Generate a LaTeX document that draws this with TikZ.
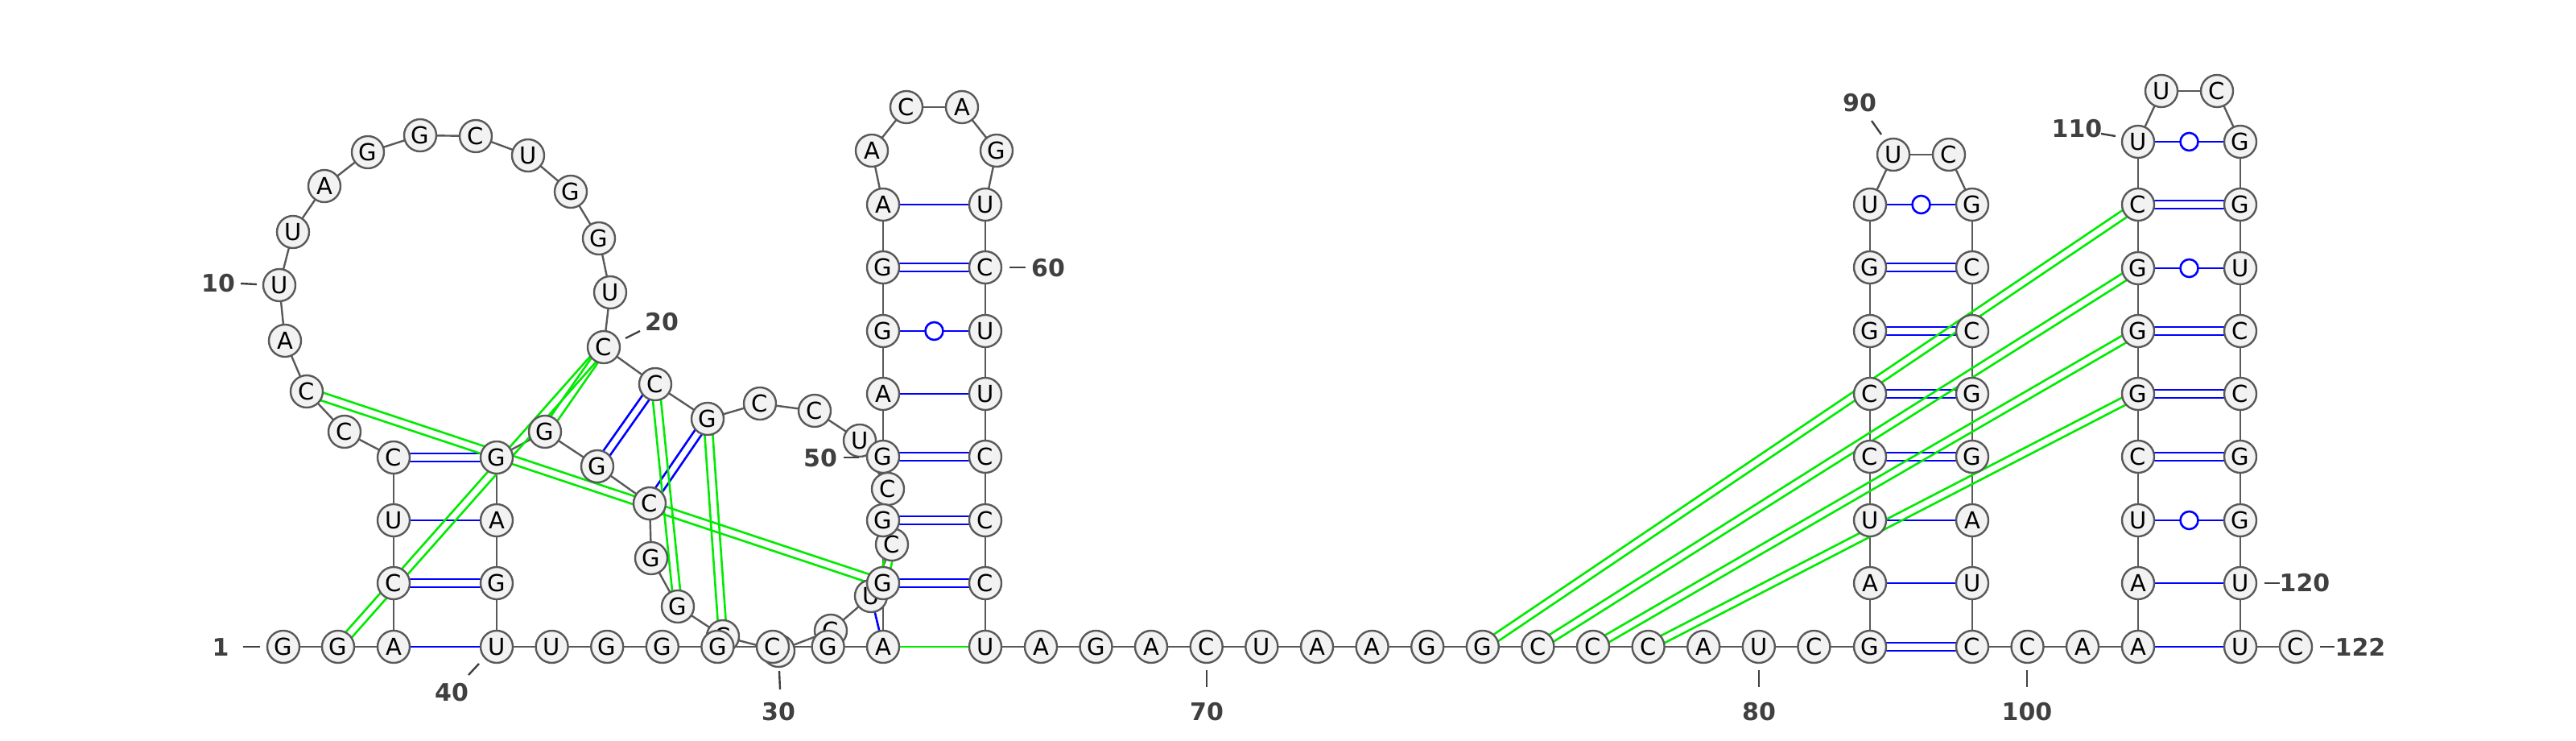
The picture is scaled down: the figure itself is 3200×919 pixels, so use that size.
\documentclass[tikz,border=0pt]{standalone}
\usepackage{fontspec}
\setmainfont{DejaVu Sans}
\usetikzlibrary{calc,backgrounds}
\definecolor{ntfill}{HTML}{F2F2F2}
\definecolor{ntdraw}{HTML}{595959}
\definecolor{labc}{HTML}{404040}
\definecolor{pkgreen}{RGB}{0,235,0}
\definecolor{bpblue}{RGB}{0,0,255}
\newcommand\dpair[3]{%
  \draw[#1] ($(#2.center)!5pt!90:(#3.center)$) -- ($(#3.center)!5pt!-90:(#2.center)$);
  \draw[#1] ($(#2.center)!5pt!-90:(#3.center)$) -- ($(#3.center)!5pt!90:(#2.center)$);}
\newcommand\spair[3]{\draw[#1] (#2.center) -- (#3.center);}
\newcommand\wpair[2]{\draw[bp] (#1.center) -- (#2.center);
  \node[wob] at ($(#1.center)!0.5!(#2.center)$) {};}
\begin{document}
\begin{tikzpicture}[x=1pt,y=-1pt,
 nt/.style={circle,draw=ntdraw,fill=ntfill,line width=2.4pt,minimum size=40pt,inner sep=0pt,font=\fontsize{29}{30}\selectfont},
 bb/.style={draw=ntdraw,line width=2.4pt},
 bp/.style={draw=bpblue,line width=2.6pt},
 pk/.style={draw=pkgreen,line width=2.6pt},
 wob/.style={circle,draw=bpblue,fill=white,line width=2.6pt,minimum size=22pt,inner sep=0pt},
 lab/.style={text=labc,font=\bfseries\fontsize{30}{30}\selectfont,inner sep=0pt},
 tick/.style={draw=labc,line width=2.4pt}]
\useasboundingbox (0,0) rectangle (3200,919);
\foreach \i/\b/\x/\y in {
1/G/352/803, 2/G/420/803, 3/A/489/803, 4/C/489/724, 5/U/489/646, 6/C/489/568,
7/C/428/536, 8/C/381/486, 9/A/354/423, 10/U/347/354, 11/U/364/288, 12/A/403/231,
13/G/457/189, 14/G/522/168, 15/C/591/169, 16/U/656/193, 17/G/709/238, 18/G/744/296,
19/U/758/363, 20/C/750/431, 21/C/814/477, 22/G/879/520, 23/C/944/501, 24/C/1012/510,
25/U/1068/547, 26/C/1103/607, 27/C/1108/676, 28/U/1082/740, 29/C/1032/783, 30/C/967/808,
31/C/898/790, 32/G/842/753, 33/G/809/693, 34/C/807/625, 35/G/742/579, 36/G/677/536,
37/G/617/568, 38/A/617/646, 39/G/617/724, 40/U/617/803, 41/U/685.6/803, 42/G/754.2/803,
43/G/822.8/803, 44/G/891.4/803, 45/C/960/803, 46/G/1028.6/803, 47/A/1097/803, 48/G/1097/724,
49/G/1097/646, 50/G/1097/567, 51/A/1097/489, 52/G/1097/411, 53/G/1097/332, 54/A/1097/254,
55/A/1083/187, 56/C/1126/133, 57/A/1195/133, 58/G/1238/187, 59/U/1224/254, 60/C/1224/332,
61/U/1224/411, 62/U/1224/489, 63/C/1224/567, 64/C/1224/646, 65/C/1224/724, 66/U/1224/803,
67/A/1293/803, 68/G/1361.5/803, 69/A/1430/803, 70/C/1498.7/803, 71/U/1567.3/803, 72/A/1636/803,
73/A/1704.6/803, 74/G/1773.2/803, 75/G/1841.8/803, 76/C/1910.4/803, 77/C/1979/803, 78/C/2047.6/803,
79/A/2116.2/803, 80/U/2184.8/803, 81/C/2253.4/803, 82/G/2323/803, 83/A/2323/724, 84/U/2323/646,
85/C/2323/567, 86/C/2323/489, 87/G/2323/411, 88/G/2323/332, 89/U/2323/254, 90/U/2352/192,
91/C/2421/192, 92/G/2450/254, 93/C/2450/332, 94/C/2450/411, 95/G/2450/489, 96/G/2450/567,
97/A/2450/646, 98/U/2450/724, 99/C/2450/803, 100/C/2518.5/803, 101/A/2587/803, 102/A/2656/803,
103/A/2656/724, 104/U/2656/646, 105/C/2656/567, 106/G/2656/489, 107/G/2656/411, 108/G/2656/333,
109/C/2656/254, 110/U/2656/176, 111/U/2685/113, 112/C/2754/113, 113/G/2783/176, 114/G/2783/254,
115/U/2783/333, 116/C/2783/411, 117/C/2783/489, 118/G/2783/567, 119/G/2783/646, 120/U/2783/724,
121/U/2783/803, 122/C/2852/803}
  {\node[nt] (n\i) at (\x,\y) {\b};}
\begin{scope}[on background layer]
\foreach \i [evaluate=\i as \j using int(\i+1)] in {1,...,121}
  {\draw[bb] (n\i.center) -- (n\j.center);}
% canonical pairs
\spair{bp}{n3}{n40}
\dpair{bp}{n4}{n39}
\spair{bp}{n5}{n38}
\dpair{bp}{n6}{n37}
\dpair{bp}{n21}{n35}
\dpair{bp}{n22}{n34}
\spair{bp}{n28}{n47}
\dpair{bp}{n48}{n65}
\dpair{bp}{n49}{n64}
\dpair{bp}{n50}{n63}
\spair{bp}{n51}{n62}
\wpair{n52}{n61}
\dpair{bp}{n53}{n60}
\spair{bp}{n54}{n59}
\dpair{bp}{n82}{n99}
\spair{bp}{n83}{n98}
\spair{bp}{n84}{n97}
\dpair{bp}{n85}{n96}
\dpair{bp}{n86}{n95}
\dpair{bp}{n87}{n94}
\dpair{bp}{n88}{n93}
\wpair{n89}{n92}
\spair{bp}{n102}{n121}
\spair{bp}{n103}{n120}
\wpair{n104}{n119}
\dpair{bp}{n105}{n118}
\dpair{bp}{n106}{n117}
\dpair{bp}{n107}{n116}
\wpair{n108}{n115}
\dpair{bp}{n109}{n114}
\wpair{n110}{n113}
% pseudoknot pairs
\dpair{pk}{n2}{n20}
\dpair{pk}{n36}{n20}
\dpair{pk}{n8}{n48}
\dpair{pk}{n21}{n32}
\dpair{pk}{n22}{n31}
\dpair{pk}{n27}{n48}
\spair{pk}{n47}{n66}
\dpair{pk}{n75}{n109}
\dpair{pk}{n76}{n108}
\dpair{pk}{n77}{n107}
\dpair{pk}{n78}{n106}
\end{scope}
% numbering
\foreach \t/\lx/\ly/\ax/\ay/\bx/\by in {
1/274/804/302/803/323/803, 10/271/352/299/352/319/353, 20/822/400/777/420/795/411,
30/967/884/968/833/969/856, 40/561/860/582/838/595/824, 50/1019/569/1048/568/1067/568,
60/1302/333/1254/332/1274/332, 70/1499/884/1499/832/1499/853, 80/2185/884/2185/832/2185/853,
90/2310/128/2325/150/2337/167, 100/2518/884/2518/832/2518/853, 110/2580/160/2610/166/2628/169,
120/2863/724/2813/724/2832/724, 122/2932/803/2882/803/2900/803}
{\node[lab] (l\t) at (\lx,\ly) {\t};
 \coordinate (ta\t) at (\ax,\ay);
 \coordinate (tb\t) at (\bx,\by);
 \draw[tick] (ta\t) -- (tb\t);}
\end{tikzpicture}
\end{document}
